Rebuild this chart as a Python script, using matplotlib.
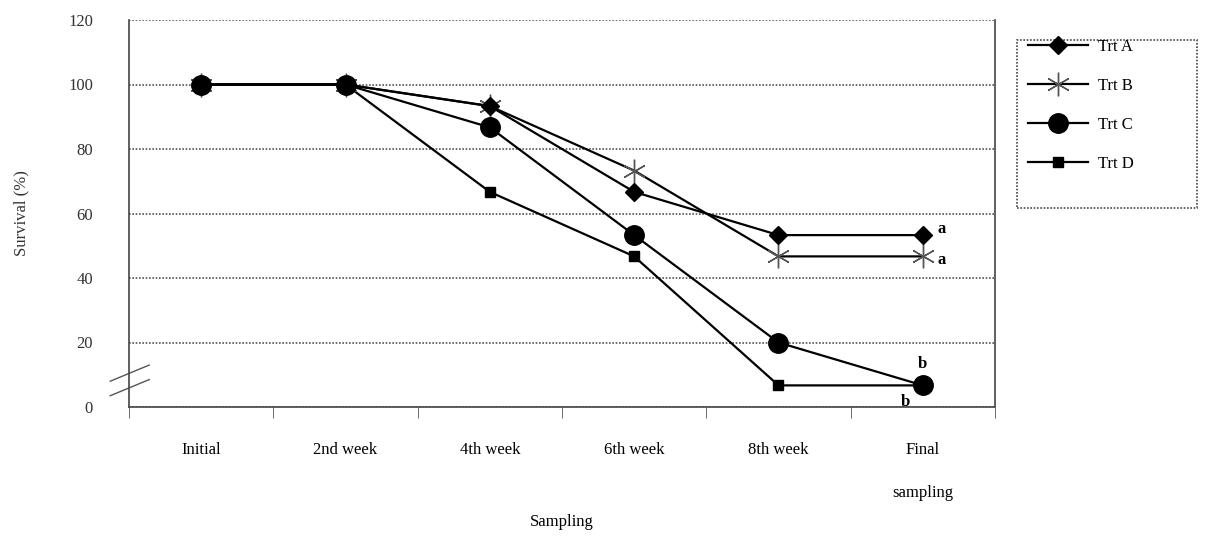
import matplotlib.pyplot as plt
import matplotlib.patches as mpatches
import numpy as np

plt.rcParams['font.family'] = ['Liberation Serif', 'DejaVu Serif']

stages = ['Initial', '2nd week', '4th week', '6th week', '8th week', 'Final\n\nsampling']
trt_a = [100, 100, 93.3, 66.7, 53.3, 53.3]
trt_b = [100, 100, 93.3, 73.3, 46.7, 46.7]
trt_c = [100, 100, 86.7, 53.3, 20.0, 6.7]
trt_d = [100, 100, 66.7, 46.7, 6.7, 6.7]

x = np.arange(len(stages))

fig = plt.figure(figsize=(12.05, 5.4), dpi=100)
ax = fig.add_axes([129 / 1205, 1 - 407 / 540, (995 - 129) / 1205, (407 - 20) / 540])

ax.plot(x, trt_a, color='black', lw=1.6, marker='D', ms=9, label='Trt A', zorder=4)
ax.plot(x, trt_b, color='black', lw=1.6, marker=(6, 2, 0), ms=17, mec='#555555', mew=1.0,
        label='Trt B', zorder=3)
ax.plot(x, trt_c, color='black', lw=1.6, marker='o', ms=14, label='Trt C', zorder=5)
ax.plot(x, trt_d, color='black', lw=1.6, marker='s', ms=7, label='Trt D', zorder=2)

ax.set_xlim(-0.5, 5.5)
ax.set_ylim(0, 120)
ax.set_yticks(range(0, 121, 20))
ax.yaxis.grid(True, color='#555555', ls=(0, (1, 1)), lw=1.2)
ax.set_axisbelow(True)

ax.set_xticks(x)
ax.set_xticklabels(stages, fontsize=12, linespacing=1.45)
ax.set_xticks(np.arange(-0.5, 6, 1), minor=True)
ax.tick_params(axis='x', which='major', length=0, pad=25)
ax.tick_params(axis='x', which='minor', length=8, direction='out', color='#555555')
ax.tick_params(axis='y', length=0, pad=26, labelsize=12, labelcolor='#333333')

ax.spines['top'].set_visible(False)
for s in ['left', 'bottom', 'right']:
    ax.spines[s].set_linestyle((0, (1, 1)))
    ax.spines[s].set_color('#444444')
    ax.spines[s].set_linewidth(1.2)

# axis break marks
for yb in [10.5, 6.0]:
    ax.plot([-0.63, -0.36], [yb - 2.5, yb + 2.5], color='#555555', lw=1.0, clip_on=False)

ax.set_ylabel('Survival (%)', fontsize=12, labelpad=28, color='#333333')
ax.set_xlabel('Sampling', fontsize=12, labelpad=10)

ax.text(x[5] + 0.1, trt_a[5] + 2, 'a', fontsize=12, fontweight='bold', va='center')
ax.text(x[5] + 0.1, trt_b[5] - 1, 'a', fontsize=12, fontweight='bold', va='center')
ax.text(x[5], trt_c[5] + 6.5, 'b', fontsize=12, fontweight='bold', ha='center', va='center')
ax.text(x[5] - 0.12, trt_c[5] - 5, 'b', fontsize=12, fontweight='bold', ha='center', va='center')

leg = fig.legend(loc='upper left', bbox_to_anchor=(1020 / 1205, 1 - 31 / 540), fontsize=12,
                 frameon=False, handlelength=3.6, labelspacing=1.38, handletextpad=0.6,
                 borderpad=0.5, borderaxespad=0)
frame = mpatches.Rectangle((1017 / 1205, 1 - 208 / 540), 180 / 1205, 168 / 540,
                           transform=fig.transFigure, fill=False, edgecolor='#444444',
                           ls=(0, (1, 1)), lw=1.2)
fig.add_artist(frame)

fig.savefig('out.png', dpi=100)
